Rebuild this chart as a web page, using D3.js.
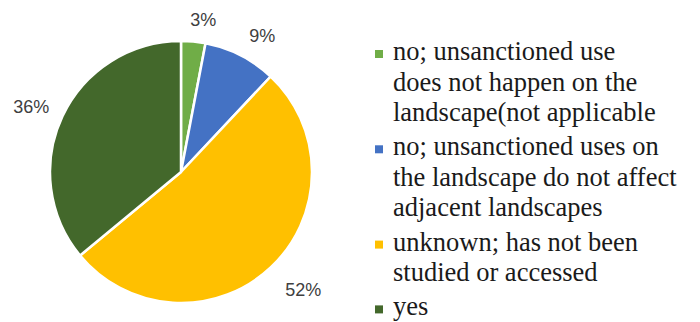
<!DOCTYPE html>
<html><head><meta charset="utf-8">
<script src="https://cdn.jsdelivr.net/npm/d3@7"></script>
<style>html,body{margin:0;padding:0;background:#fff;}svg{display:block;}</style>
</head><body>
<script>
const categories = [
  ["no; unsanctioned use", "does not happen on the", "landscape(not applicable"],
  ["no; unsanctioned uses on", "the landscape do not affect", "adjacent landscapes"],
  ["unknown; has not been", "studied or accessed"],
  ["yes"]
];
const values = [3, 9, 52, 36];
const valueLabels = ["3%", "9%", "52%", "36%"];
const colors = ["#70AD47", "#4472C4", "#FFC000", "#43682B"];

const W = 700, H = 322;
const svg = d3.select("body").append("svg").attr("width", W).attr("height", H);

const cx = 181, cy = 172, r = 131;
const pie = d3.pie().sort(null).value(d => d);
const arcs = pie(values);
const arc = d3.arc().innerRadius(0).outerRadius(r);

const g = svg.append("g").attr("transform", `translate(${cx},${cy})`);
g.selectAll("path").data(arcs).enter().append("path")
  .attr("d", arc)
  .attr("fill", (d, i) => colors[i])
  .attr("stroke", "#fff")
  .attr("stroke-width", 2.5)
  .attr("stroke-linejoin", "round");

// data labels (outside end)
const lbl = g.selectAll("text.lbl").data(arcs).enter().append("text")
  .attr("class", "lbl")
  .style("font-family", "'Liberation Sans', Arial, sans-serif")
  .attr("font-size", 18)
  .attr("fill", "#404040")
  .attr("text-anchor", "middle")
  .text((d, i) => valueLabels[i]);
lbl.each(function(d) {
  const a = (d.startAngle + d.endAngle) / 2;
  const w = this.getComputedTextLength();
  const h = 16;
  const R = r + 17;
  const s = Math.sin(a), c = Math.cos(a);
  const sx = Math.sign(s) * Math.sqrt(Math.abs(s));
  const sy = Math.sign(c) * Math.sqrt(Math.abs(c));
  const x = R * s + (w / 2) * sx + 3 * s + 4;
  const y = -R * c - (h / 2) * sy;
  d3.select(this).attr("x", x).attr("y", y + 9);
});

// legend (default serif face)
const legend = svg.append("g");
const lineH = 30.5, itemGap = 3.8;
let y = 60;
categories.forEach((lines, i) => {
  legend.append("rect")
    .attr("x", 375).attr("y", y - 10)
    .attr("width", 8).attr("height", 8)
    .attr("fill", colors[i]);
  lines.forEach((t, j) => {
    legend.append("text")
      .attr("x", 393).attr("y", y + j * lineH)
      .attr("font-size", 26.5)
      .attr("fill", "#1a1a1a")
      .text(t);
  });
  y += lines.length * lineH + itemGap;
});
</script>
</body></html>
